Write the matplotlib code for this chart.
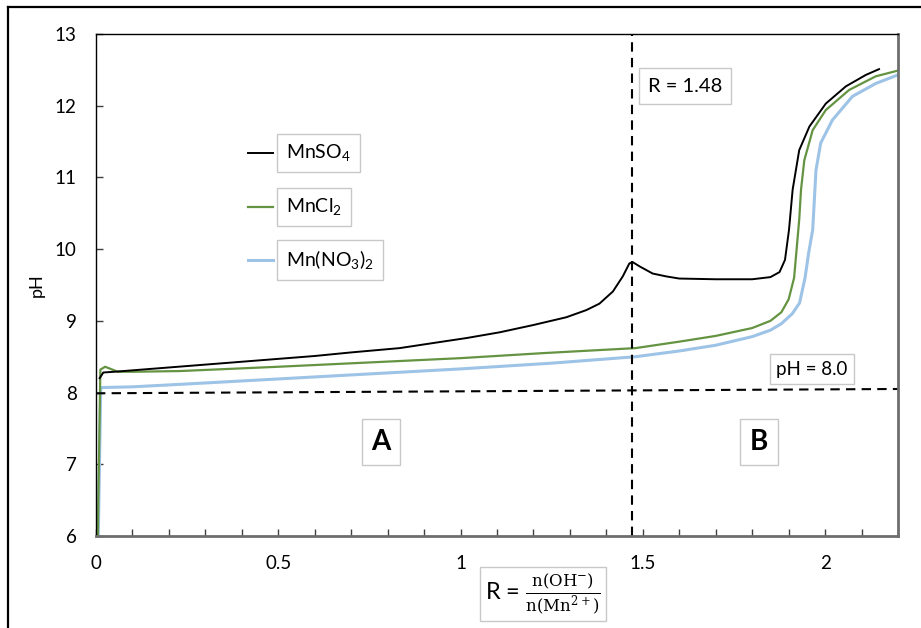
import matplotlib
matplotlib.use("Agg")
import matplotlib.pyplot as plt
from matplotlib.lines import Line2D
from matplotlib.ticker import MultipleLocator

plt.rcParams['font.family'] = ['Lato', 'DejaVu Sans']
plt.rcParams['mathtext.fontset'] = 'custom'
plt.rcParams['mathtext.rm'] = 'DejaVu Serif'
plt.rcParams['mathtext.sf'] = 'Lato'

# ---- data ----
x_so4 = [0.01, 0.02, 0.05, 0.1, 0.2, 0.3, 0.4, 0.5, 0.6, 0.7, 0.833, 0.924, 1.016,
         1.107, 1.198, 1.29, 1.345, 1.381, 1.418, 1.445, 1.463, 1.472, 1.491, 1.527,
         1.564, 1.6, 1.7, 1.8, 1.85, 1.875, 1.89, 1.901, 1.911, 1.929, 1.957, 2.002,
         2.057, 2.112, 2.148]
ph_so4 = [8.2, 8.28, 8.29, 8.31, 8.35, 8.39, 8.43, 8.47, 8.51, 8.56, 8.62, 8.69, 8.76,
          8.84, 8.94, 9.05, 9.15, 9.24, 9.41, 9.62, 9.80, 9.82, 9.76, 9.66,
          9.62, 9.59, 9.58, 9.58, 9.61, 9.68, 9.85, 10.27, 10.83, 11.38, 11.71, 12.03,
          12.27, 12.43, 12.51]

x_cl = [0.005, 0.012, 0.025, 0.04, 0.06, 0.1, 0.23, 0.5, 0.75, 1.0, 1.226, 1.48, 1.6,
        1.7, 1.8, 1.85, 1.88, 1.9, 1.915, 1.929, 1.934, 1.943, 1.966, 2.002, 2.066,
        2.139, 2.2]
ph_cl = [6.0, 8.32, 8.36, 8.33, 8.29, 8.29, 8.30, 8.36, 8.42, 8.48, 8.55, 8.62, 8.71,
         8.79, 8.9, 9.0, 9.12, 9.3, 9.6, 10.41, 10.83, 11.24, 11.66, 11.94, 12.22,
         12.41, 12.49]

x_no3 = [0.006, 0.013, 0.1, 0.25, 0.5, 0.75, 1.0, 1.25, 1.48, 1.6, 1.7, 1.8, 1.85,
         1.88, 1.91, 1.93, 1.945, 1.955, 1.966, 1.975, 1.988, 2.02, 2.075, 2.139, 2.2]
ph_no3 = [5.9, 8.07, 8.08, 8.12, 8.19, 8.26, 8.33, 8.41, 8.50, 8.58, 8.66, 8.78, 8.87,
          8.96, 9.1, 9.25, 9.6, 9.95, 10.27, 11.1, 11.48, 11.8, 12.13, 12.31, 12.43]

labels = [r'MnSO$_\mathsf{4}$', r'MnCl$_\mathsf{2}$', r'Mn(NO$_\mathsf{3}$)$_\mathsf{2}$']
colors = ['#000000', '#649441', '#9dc3e6']

r_line = 1.47
ph_line_x = [0.0, 2.2]
ph_line_y = [7.99, 8.05]

# ---- figure ----
fig = plt.figure(figsize=(9.21, 6.28), dpi=100)
W, H = 921, 628
ax = fig.add_axes([96 / W, 1 - 536 / H, (898 - 96) / W, (536 - 34) / H])

ax.plot(x_no3, ph_no3, color=colors[2], lw=2.2, solid_joinstyle='round')
ax.plot(x_cl, ph_cl, color=colors[1], lw=1.6, solid_joinstyle='round')
ax.plot(x_so4, ph_so4, color=colors[0], lw=1.4, solid_joinstyle='round')

ax.plot([r_line, r_line], [6, 13], color='black', lw=1.5, ls=(0, (4.5, 3)))
ax.plot(ph_line_x, ph_line_y, color='black', lw=1.5, ls=(0, (4.5, 3)))

ax.set_xlim(0, 2.2)
ax.set_ylim(6, 13)
ax.xaxis.set_minor_locator(MultipleLocator(0.1))
ax.yaxis.set_major_locator(MultipleLocator(1))
ax.set_xticks([0, 0.5, 1, 1.5, 2])
ax.set_xticklabels(['0', '0.5', '1', '1.5', '2'])
ax.tick_params(axis='both', which='both', direction='in', length=5, width=1,
               color='#404040', labelsize=13.5, pad=14)

for s in ['top', 'left']:
    ax.spines[s].set_color('black')
    ax.spines[s].set_linewidth(1)
for s in ['right', 'bottom']:
    ax.spines[s].set_color('#6e6e6e')
    ax.spines[s].set_linewidth(2)

fig.text(37 / W, 1 - 285 / H, 'pH', rotation=90, ha='center', va='center', fontsize=13)

# legend (manual, as in reference)
leg_y = [153, 207, 260]
for lab, col, yy, lw in zip(labels, colors, leg_y, [1.4, 1.6, 2.2]):
    fig.add_artist(Line2D([248 / W, 273 / W], [1 - yy / H, 1 - yy / H], color=col, lw=lw))
    fig.text(286 / W, 1 - yy / H, lab, ha='left', va='center', fontsize=14,
             bbox=dict(boxstyle='square,pad=0.45', fc='white', ec='#c8c8c8', lw=1))

fig.text(685 / W, 1 - 86 / H, 'R = 1.48', ha='center', va='center', fontsize=14.5,
         bbox=dict(boxstyle='square,pad=0.45', fc='white', ec='#c8c8c8', lw=1))
fig.text(812 / W, 1 - 369 / H, 'pH = 8.0', ha='center', va='center', fontsize=13.5,
         bbox=dict(boxstyle='square,pad=0.35', fc='white', ec='#c8c8c8', lw=1))
fig.text(381 / W, 1 - 442 / H, 'A', ha='center', va='center', fontsize=20,
         fontweight='bold',
         bbox=dict(boxstyle='square,pad=0.35', fc='white', ec='#c8c8c8', lw=1))
fig.text(759 / W, 1 - 442 / H, 'B', ha='center', va='center', fontsize=20,
         fontweight='bold',
         bbox=dict(boxstyle='square,pad=0.35', fc='white', ec='#c8c8c8', lw=1))

fig.text(543 / W, 1 - 594 / H,
         r'R = $\frac{\mathrm{n(OH^{-})}}{\mathrm{n(Mn^{2+})}}$',
         ha='center', va='center', fontsize=17,
         bbox=dict(boxstyle='square,pad=0.2', fc='white', ec='#c8c8c8', lw=1))

# outer frame (top and left edges visible)
fig.add_artist(Line2D([8 / W, 1.0], [1 - 7 / H, 1 - 7 / H], color='black', lw=1.6))
fig.add_artist(Line2D([8 / W, 8 / W], [0.0, 1 - 7 / H], color='black', lw=1.6))

fig.savefig('out.png', dpi=100)
